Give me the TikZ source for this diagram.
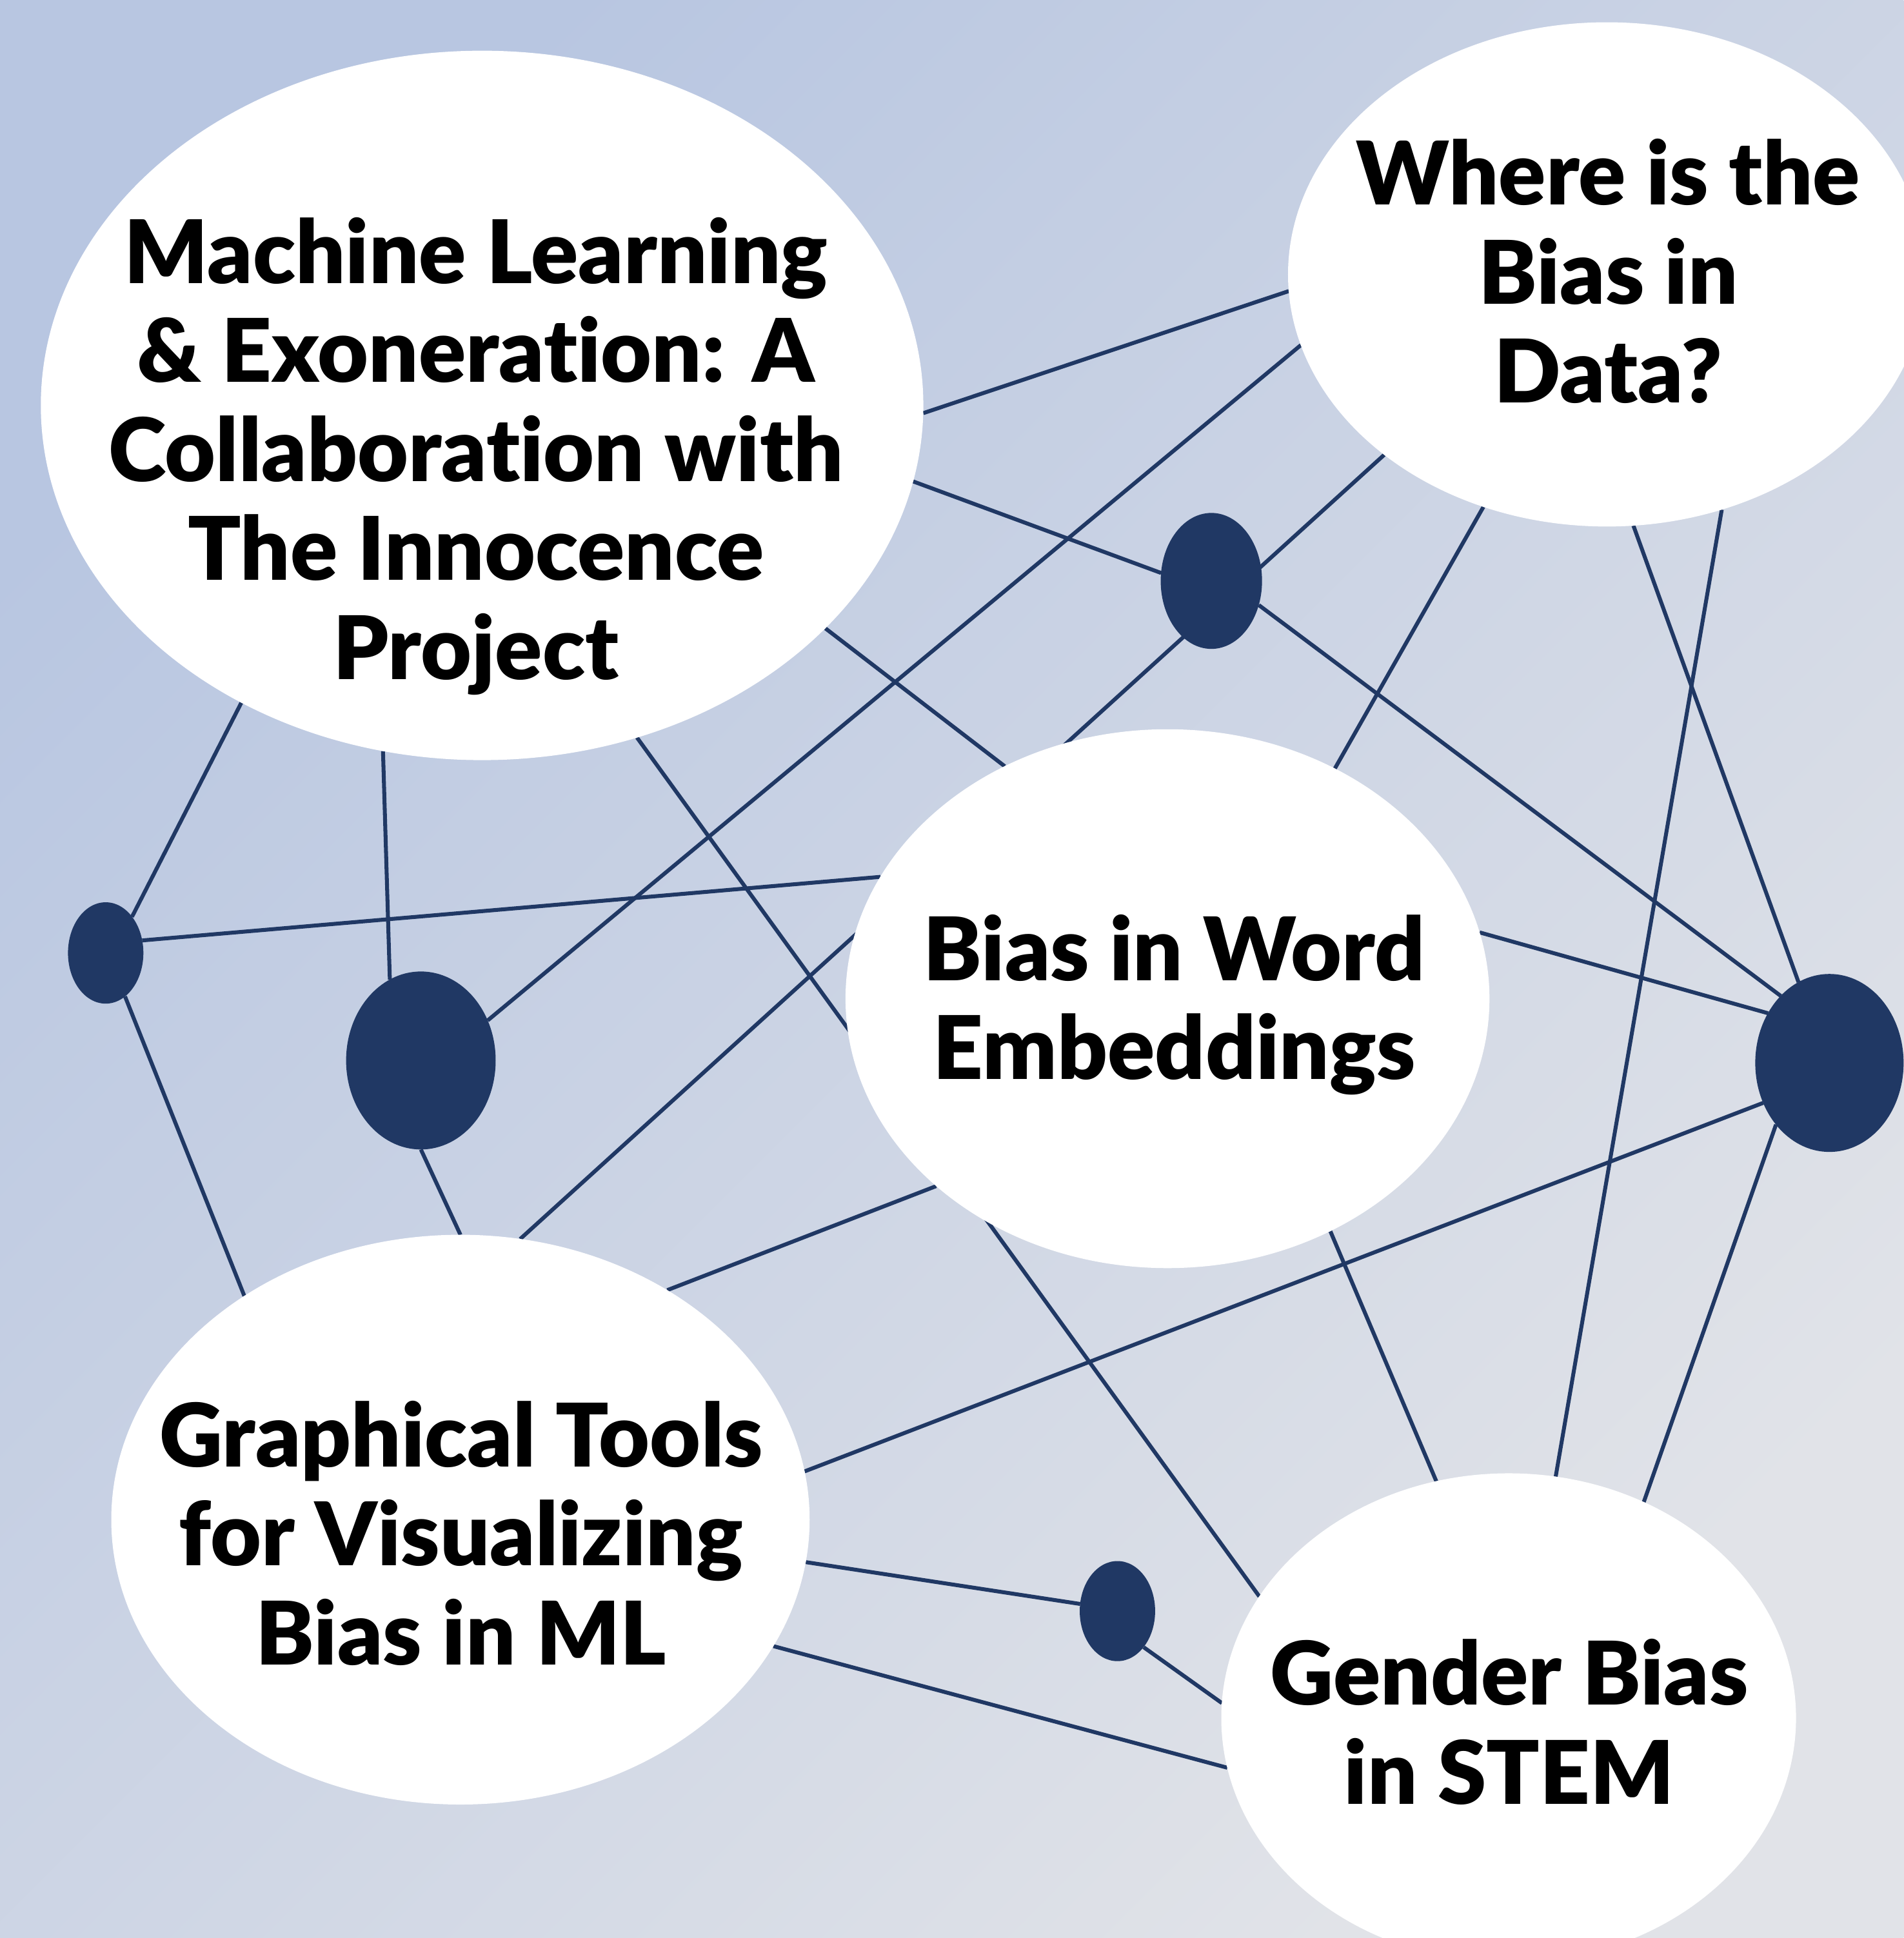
\documentclass[tikz,border=0pt]{standalone}
\usepackage{fontspec}
\setmainfont{Lato Black}[Ligatures={NoCommon}]
\usepackage{tikz}
\usetikzlibrary{shapes.geometric}
\definecolor{navy}{RGB}{32,56,100}
\definecolor{bgtop}{RGB}{184,198,225}
\definecolor{bgbot}{RGB}{225,227,232}
\pgfdeclarelayer{bg}
\pgfsetlayers{bg,main}

\begin{document}
\begin{tikzpicture}[scale=0.1,
    bubble/.style={ellipse, fill=white, outer sep=0pt},
    dot/.style={ellipse, fill=navy, outer sep=0pt},
    title/.style={align=center, font=\fontsize{20.2}{22.8}\selectfont},
    link/.style={navy, line width=0.9pt}]
    \tikzstyle{every node}+=[inner sep=0pt]
    \useasboundingbox (0,0) rectangle (154,-156.8);
    \begin{pgfonlayer}{bg}
    \shade [top color=bgtop, bottom color=bgbot, shading angle=45] (0,0) rectangle (154,-156.8);
    \end{pgfonlayer}
    % topics
    \node [bubble, minimum width=7.14cm, minimum height=5.74cm] (ml) at (39,-32.8) {};
    \node [bubble, minimum width=5.16cm, minimum height=4.08cm] (wh) at (130,-22.2) {};
    \node [bubble, minimum width=5.21cm, minimum height=4.36cm] (we) at (94.45,-80.8) {};
    \node [bubble, minimum width=5.65cm, minimum height=4.61cm] (gt) at (37.25,-122.95) {};
    \node [bubble, minimum width=4.65cm, minimum height=3.96cm] (gb) at (122.05,-139) {};
    \draw (38.5,-36.9) node (mltxt) [title] {Machine Learning\\\& Exoneration: A\\Collaboration with\\The Innocence\\Project};
    \draw (130.1,-21.95) node (whtxt) [title] {Where is the\\Bias in\\Data?};
    \draw (95,-81.3) node (wetxt) [title] {Bias in Word\\Embeddings};
    \draw (37.3,-124.05) node (gttxt) [title] {Graphical Tools\\for Visualizing\\Bias in ML};
    \draw (122.1,-139.3) node (gbtxt) [title] {Gender Bias\\in STEM};
    % dots
    \node [dot, minimum width=0.82cm, minimum height=1.1cm] (d1) at (98,-47) {};
    \node [dot, minimum width=0.61cm, minimum height=0.82cm] (d2) at (8.55,-77.1) {};
    \node [dot, minimum width=1.21cm, minimum height=1.44cm] (d3) at (34.05,-85.8) {};
    \node [dot, minimum width=1.2cm, minimum height=1.44cm] (d4) at (148,-86) {};
    \node [dot, minimum width=0.61cm, minimum height=0.81cm] (d5) at (90.4,-130.35) {};
    \begin{pgfonlayer}{bg}
    \draw [link] (ml.359.7) -- (wh.183.1);
    \draw [link] (ml.350.1) -- (d1.171.2);
    \draw [link] (ml.327.1) -- (we.125.3);
    \draw [link] (ml.295.7) -- (gb.154.5);
    \draw [link] (ml.254.1) -- (d3.111.6);
    \draw [link] (ml.231.4) -- (d2.54.2);
    \draw [link] (wh.193.9) -- (d3.31.6);
    \draw [link] (wh.219.2) -- (gt.78.4);
    \draw [link] (wh.242.5) -- (we.54.3);
    \draw [link] (wh.276.7) -- (d4.111);
    \draw [link] (wh.296.8) -- (gb.79.1);
    \draw [link] (d1.333) -- (d4.126.8);
    \draw [link] (d2.19.7) -- (we.157.5);
    \draw [link] (d2.294.6) -- (gt.134.4);
    \draw [link] (d3.270.4) -- (gt.90.9);
    \draw [link] (gt.48.2) -- (we.219.3);
    \draw [link] (gt.8.8) -- (d4.211.8);
    \draw [link] (gt.353) -- (d5.169);
    \draw [link] (gt.338.1) -- (gb.190);
    \draw [link] (we.12.3) -- (d4.141.2);
    \draw [link] (we.305.1) -- (gb.107.5);
    \draw [link] (d4.229.5) -- (gb.58.7);
    \draw [link] (d5.306.4) -- (gb.177.9);
    \end{pgfonlayer}
\end{tikzpicture}
\end{document}
